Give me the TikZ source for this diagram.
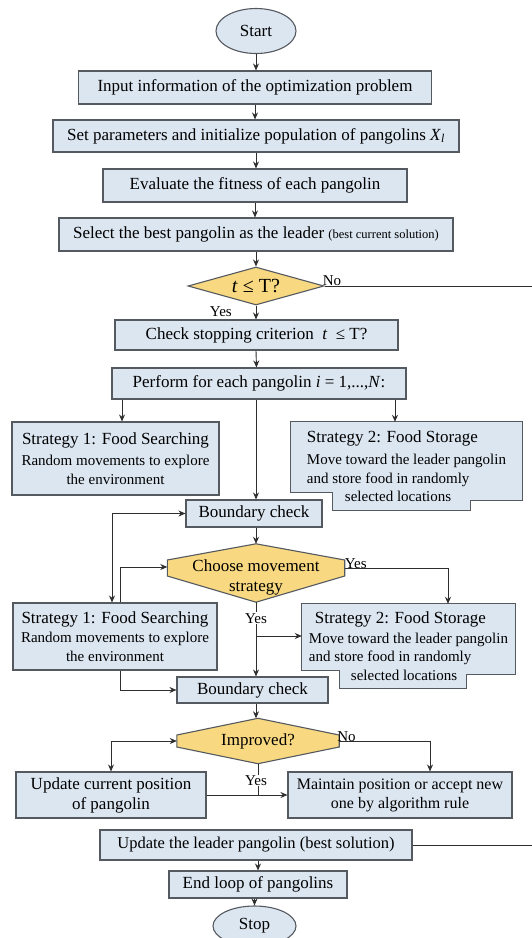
\documentclass[tikz,border=0pt]{standalone}
\usepackage{fontspec}
\setmainfont{Liberation Serif}
\usetikzlibrary{shapes.geometric,arrows.meta,calc}
\pgfdeclarelayer{shapes}
\pgfsetlayers{shapes,main}
\definecolor{boxfill}{HTML}{DCE6F1}
\definecolor{boxline}{HTML}{555A60}
\definecolor{decfill}{HTML}{F8D880}
\definecolor{wirecol}{HTML}{2E2E2E}
\newcommand{\subline}{\fontsize{15}{18.5}\selectfont}
\newcommand{\headline}{\fontsize{17}{20}\selectfont}
\begin{document}
\begin{tikzpicture}[x=1pt,y=-1pt,
  font=\fontsize{17}{20}\selectfont,
  procbox/.style={draw=boxline, fill=boxfill, line width=1.1pt, inner sep=0pt, align=center},
  termbox/.style={ellipse, draw=boxline, fill=boxfill, line width=1.1pt, inner sep=0pt},
  textonly/.style={inner sep=0pt, align=center},
  decshape/.style={draw=boxline, fill=decfill, line width=1.1pt},
  wire/.style={draw=wirecol, line width=0.9pt},
  link/.style={wire, -{Stealth[length=7pt,width=6pt]}},
  biarrow/.style={wire, {Stealth[length=7pt,width=6pt]}-{Stealth[length=7pt,width=6pt]}},
  lbl/.style={font=\fontsize{15}{17}\selectfont, inner sep=1pt},
]
\useasboundingbox (0,0) rectangle (532,938);
\clip (0,0) rectangle (532,938);
\begin{pgfonlayer}{shapes}
  \fill[white] (0,0) rectangle (532,938);
\end{pgfonlayer}

% exit points on the right margin
\coordinate (exit) at (532,0);

% ---- main column ----
\node[termbox, minimum width=80pt, minimum height=45pt] (start) at (256,31) {Start};
\node[procbox, minimum width=353pt, minimum height=33pt] (input) at (255,87.5) {Input information of the optimization problem};
\node[procbox, minimum width=406pt, minimum height=32pt] (init) at (256,136) {Set parameters and initialize population of pangolins \textit{X}\textsubscript{\textit{l}}};
\node[procbox, minimum width=304pt, minimum height=33pt] (eval) at (255,185.5) {Evaluate the fitness of each pangolin};
\node[procbox, minimum width=394pt, minimum height=33pt] (select) at (256,234.5) {Select the best pangolin as the leader {\fontsize{12.5}{14}\selectfont (best current solution)}};
\node[diamond, decshape, aspect=4, minimum width=136pt, minimum height=38pt, inner sep=0pt, font=\fontsize{20}{22}\selectfont] (cond) at (256,286) {\textit{t} ≤ T?};
\node[procbox, minimum width=283pt, minimum height=30pt] (check) at (256.5,335) {Check stopping criterion \ \textit{t} \ ≤ T?};
\node[procbox, minimum width=294pt, minimum height=31pt] (perform) at (259,383.5) {Perform for each pangolin \textit{i} = 1,...,\textit{N}:};

% ---- first strategy pair ----
\node[procbox, minimum width=207pt, minimum height=73pt, font=\subline] (s1a) at (115.5,458.5)
  {{\headline Strategy 1: Food Searching}\\[3pt]Random movements to explore\\the environment};
\node[textonly, align=left, minimum width=231pt, minimum height=88pt, font=\subline] (s2a) at (406.5,466)
  {{\headline Strategy 2: Food Storage}\\[4pt]Move toward the leader pangolin\\and store food in randomly\\\hspace*{38pt}selected locations};

\node[procbox, minimum width=136pt, minimum height=27pt] (bc1) at (254,513.5) {Boundary check};
\node[textonly, minimum width=177pt, minimum height=50pt] (choose) at (256,577) {Choose movement\\strategy};

% ---- second strategy pair ----
\node[procbox, minimum width=204pt, minimum height=67pt, font=\subline] (s1b) at (115,636.5)
  {{\headline Strategy 1: Food Searching}\\[1pt]Random movements to explore\\the environment};
\node[textonly, align=left, minimum width=213pt, minimum height=84pt, font=\subline] (s2b) at (408.5,646)
  {\hspace*{6pt}{\headline Strategy 2: Food Storage}\\[1pt]Move toward the leader pangolin\\and store food in randomly\\\hspace*{42pt}selected locations};

\node[procbox, minimum width=151pt, minimum height=26pt] (bc2) at (252.5,690) {Boundary check};
\node[textonly, minimum width=162pt, minimum height=45pt] (impr) at (258,741) {Improved?};

\node[procbox, minimum width=190pt, minimum height=46pt] (update) at (111,795) {Update current position\\of pangolin};
\node[procbox, minimum width=224pt, minimum height=46pt, font=\fontsize{16}{19}\selectfont] (keep) at (400,795) {Maintain position or accept new\\one by algorithm rule};

\node[procbox, minimum width=312pt, minimum height=30pt, font=\fontsize{16.5}{19}\selectfont] (leader) at (256,845) {Update the leader pangolin (best solution)};
\node[procbox, minimum width=178pt, minimum height=27pt] (endloop) at (258,884.5) {End loop of pangolins};
\node[termbox, minimum width=83pt, minimum height=40pt] (stop) at (254.5,926) {Stop};

% ---- outlines drawn beneath the texts ----
\begin{pgfonlayer}{shapes}
  \path[draw=boxline, fill=boxfill, line width=1.1pt]
    (s2a.north west) -- (s2a.north east) -- ([yshift=10pt]s2a.south east)
    -- ([xshift=-52pt,yshift=10pt]s2a.south east) -- ([xshift=-52pt]s2a.south east)
    -- ([xshift=42pt]s2a.south west) -- ([xshift=42pt,yshift=18pt]s2a.south west)
    -- ([yshift=18pt]s2a.south west) -- cycle;
  \path[draw=boxline, fill=boxfill, line width=1.1pt]
    (s2b.north west) -- (s2b.north east) -- ([yshift=14pt]s2b.south east)
    -- ([xshift=-49pt,yshift=14pt]s2b.south east) -- ([xshift=-49pt]s2b.south east)
    -- ([xshift=38pt]s2b.south west) -- ([xshift=38pt,yshift=18pt]s2b.south west)
    -- ([yshift=18pt]s2b.south west) -- cycle;
  % movement-strategy decision: apex above the text block, flat sides
  \path[decshape]
    ([yshift=8pt]choose.north) -- ([yshift=17pt]choose.east) -- ([yshift=1pt]choose.east)
    -- (choose.south) -- ([yshift=1pt]choose.west) -- ([yshift=17pt]choose.west) -- cycle;
  \path[decshape]
    (impr.north) -- ([yshift=6pt]impr.east) -- ([yshift=-6pt]impr.east)
    -- (impr.south) -- ([yshift=-6pt]impr.west) -- ([yshift=6pt]impr.west) -- cycle;
\end{pgfonlayer}

% ---- connectors ----
\draw[link] (start.south) -- (start.south |- input.north);
\draw[link] (input.south) -- (input.south |- init.north);
\draw[link] (init.south) -- (init.south |- eval.north);
\draw[link] (eval.south) -- (eval.south |- select.north);
\draw[link] (select.south) -- (select.south |- cond.north);
\draw[link] (cond.south) -- (cond.south |- check.north);
\draw[wire] (cond.east) -- (cond.east -| exit);
\node[lbl, anchor=south west] (condno) at ([xshift=-3pt,yshift=-1pt]cond.east) {No};
\node[lbl, anchor=east] (condyes) at ([xshift=-23pt,yshift=-6pt]cond.south) {Yes};
\draw[link] (check.south -| cond.south) -- (check.south |- perform.north);

\draw[link] ([xshift=-137pt]perform.south) -- ([xshift=-137pt]perform.south |- s1a.north);
\draw[link] ([xshift=136pt]perform.south) -- ([xshift=136pt]perform.south |- s2a.north);
\draw[link] (perform.south -| cond.south) -- (cond.south |- bc1.north);
\draw[link] (bc1.south -| cond.south) -- ([yshift=8pt]choose.north);

\draw[link] ([yshift=9pt]choose.east) -| ([xshift=39.5pt]s2b.north);
\node[lbl, anchor=south west] (chooseyes) at ([xshift=-1pt,yshift=7pt]choose.east) {Yes};
\draw[biarrow] (bc1.west) -| ([xshift=-3pt]s1b.north);
\draw[link] ([xshift=5pt]s1b.north) |- ([yshift=10pt]choose.west);
\draw[link] (choose.south) -- (choose.south |- bc2.north);
\node[lbl, fill=white] (choosesouthyes) at ($(choose.south)+(0,16)$) {Yes};
\draw[link] ([yshift=10pt]s2b.west -| choose.south) -- ([yshift=10pt]s2b.west);
\draw[link] ([xshift=5pt]s1b.south) |- (bc2.west);

\draw[link] (bc2.south -| choose.south) -- (choose.south |- impr.north);
\draw[link] (impr.east) -| ([xshift=30pt]keep.north);
\node[lbl, anchor=south west] (imprno) at ([xshift=-3pt,yshift=-2pt]impr.east) {No};
\draw[biarrow] (impr.west) -| (update.north);
\draw[wire] (impr.south) -- (impr.south |- update.east);
\draw[link] (update.east) -- (update.east -| keep.west);
\node[lbl, fill=white, inner sep=0.5pt] (impryes) at ($(impr.south)+(-2,17)$) {Yes};

\draw[wire] (leader.east) -- (leader.east -| exit);
\draw[link] (leader.south -| endloop.north) -- (endloop.north);
\draw[link] (endloop.south -| stop.north) -- (stop.north);
\end{tikzpicture}
\end{document}
